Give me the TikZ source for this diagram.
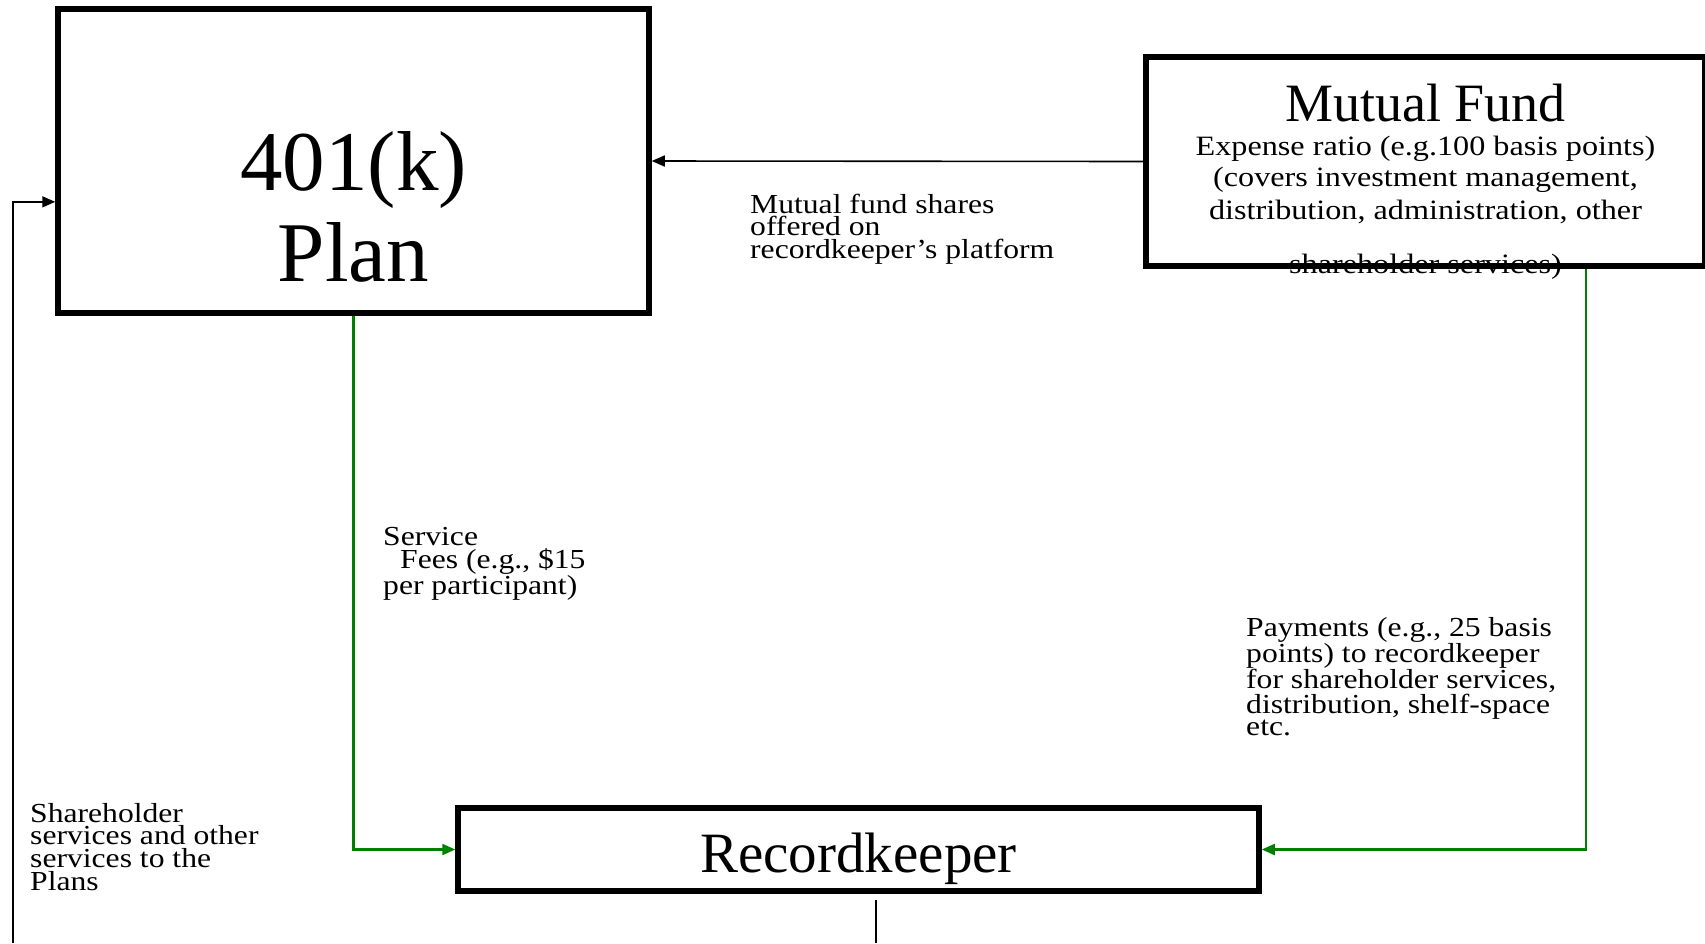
\documentclass[tikz,border=0pt]{standalone}
\usepackage{fontspec}
\setmainfont{Liberation Serif}
\newfontfamily\widefont[FakeStretch=1.15]{Liberation Serif}
\usetikzlibrary{arrows.meta,calc}
\definecolor{fgreen}{RGB}{0,128,0}
\begin{document}
\begin{tikzpicture}[x=1pt,y=-1pt,
  box/.style={draw,line width=5.5pt,inner sep=0pt},
  lbl/.style={font=\widefont\fontsize{27.5}{22.7}\selectfont,align=left,anchor=base west,inner sep=0pt},
  mfbody/.style={font=\widefont\fontsize{28}{32}\selectfont,anchor=base,inner sep=0pt},
  big/.style={anchor=base,inner sep=0pt},
  arr/.style={line width=1.6pt,-{Triangle[length=13pt,width=11pt]}},
  garr/.style={line width=2.2pt,draw=fgreen,-{Triangle[length=13pt,width=11pt]}}]
\useasboundingbox (0,0) rectangle (1705,943);
% boxes
\node[box,minimum width=591pt,minimum height=304pt] (plan) at (353.5,161) {};
\node[box,minimum width=559pt,minimum height=209pt] (mf) at (1425.5,161.5) {};
\node[box,minimum width=801pt,minimum height=83pt] (rk) at (858.5,849.5) {};
% box texts
\node[big,font=\fontsize{85}{91}\selectfont] (t401) at (353.5,190) {401(k)};
\node[big,font=\fontsize{85}{91}\selectfont] (tplan) at (353.5,281) {Plan};
\node[big,font=\fontsize{54}{60}\selectfont] (mft) at (1425.5,121) {Mutual Fund};
\node[mfbody] (mf1) at (1425.5,155.5) {Expense ratio (e.g.100 basis points)};
\node[mfbody] (mf2) at (1425.5,186.5) {(covers investment management,};
\node[mfbody] (mf3) at (1425.5,219) {distribution, administration, other};
\node[mfbody] (mf4) at (1425.5,273) {shareholder services)};
\node[big,font=\fontsize{57}{60}\selectfont] (rkt) at (858.5,872) {Recordkeeper};
% labels (anchor = baseline of last line)
\node[lbl] (l1) at (750,258.4) {Mutual fund shares\\offered on\\recordkeeper’s platform};
\node[lbl] (l2) at (383,594.4) {Service\\\hspace*{17pt}Fees (e.g., \$15\\per participant)};
\node[lbl] (l3) at (1246,735.8) {Payments (e.g., 25 basis\\points) to recordkeeper\\for shareholder services,\\distribution, shelf-space\\etc.};
\node[lbl] (l4) at (30,890.1) {Shareholder\\services and other\\services to the\\Plans};
% connectors
\draw[arr] (mf.west) -- (plan.east);
\draw[garr] (plan.south) |- (rk.west);
\coordinate (mfs) at ($(mf.south west)!0.784!(mf.south east)$);
\draw[garr] (mfs) |- (rk.east);
\coordinate (lb) at (13,943);
\coordinate (pl) at ($(plan.north west)!0.632!(plan.south west)$);
\draw[arr] (lb) |- (pl);
\coordinate (rb1) at (876,900);
\coordinate (rb2) at (876,943);
\draw[line width=1.6pt] (rb1) -- (rb2);
\end{tikzpicture}
\end{document}
